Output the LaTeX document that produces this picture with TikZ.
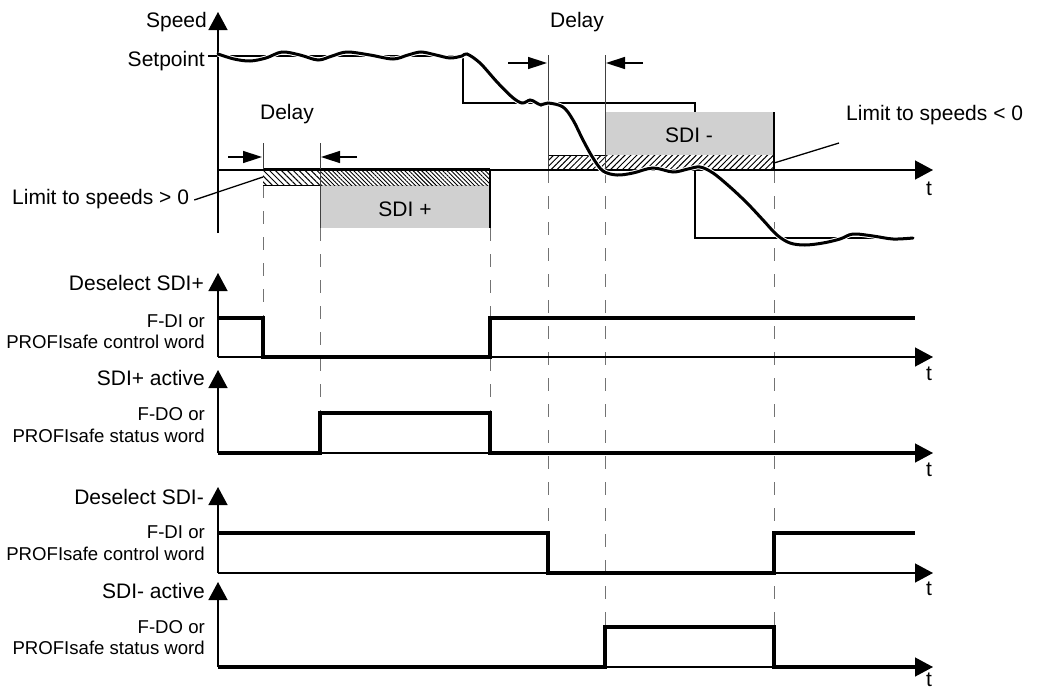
\documentclass[tikz,border=0pt]{standalone}
\usepackage{fontspec}
\setmainfont{Liberation Sans}
\usetikzlibrary{arrows.meta,patterns.meta}
\definecolor{boxgray}{RGB}{208,208,208}
\definecolor{guide}{RGB}{115,115,115}

\begin{document}
\begin{tikzpicture}[x=1pt,y=-1pt,
  big/.style={font=\fontsize{21}{24}\selectfont, inner sep=0pt},
  small/.style={font=\fontsize{18.6}{22}\selectfont, inner sep=0pt},
  axis/.style={line width=1.3pt, -{Triangle[length=18pt,width=19pt]}},
  sig/.style={line width=3.2pt, line join=miter},
  guideline/.style={guide, line width=1pt, dash pattern=on 13pt off 13pt},
  marker/.style={black!75, line width=1pt},
  refline/.style={line width=1.2pt},
  delayarrow/.style={line width=1.5pt, -{Triangle[length=19pt,width=12pt]}},
  leader/.style={line width=1.3pt},
  hatchsparse/.style={pattern={Lines[angle=-45,distance=4.2pt,line width=1pt]}},
  hatchdense/.style={pattern={Lines[angle=-45,distance=3pt,line width=0.9pt]}},
  hatchneg/.style={pattern={Lines[angle=45,distance=4.2pt,line width=1pt]}},
]
\useasboundingbox (0,0) rectangle (1040,691);

% dashed time guides
\draw[guideline] (263,185) -- (263,318);
\draw[guideline] (320,228) -- (320,413);
\draw[guideline] (490,228) -- (490,413);
\draw[guideline] (548,170) -- (548,533);
\draw[guideline] (605,170) -- (605,627);
\draw[guideline] (774,170) -- (774,627);

% speed setpoint profile
\draw[refline] (208,56) -- (463,56) -- (463,103) -- (695,103) -- (695,238) -- (913,238);

% monitoring windows
\fill[boxgray] (320,185) rectangle (490,228);
\fill[boxgray] (605,112) rectangle (774,155);
\fill[white] (263,170) rectangle (490,185);
\fill[white] (548,155) rectangle (774,170);
\fill[hatchsparse] (263,170) rectangle (320,185);
\fill[hatchdense] (320,170) rectangle (490,185);
\fill[hatchneg] (548,155) rectangle (774,170);
\draw[line width=2.5pt] (263,169) -- (490,169);
\draw[line width=1pt] (263,185) -- (320,185);
\draw[line width=1.5pt] (490,169) -- (490,228);
\draw[line width=2.5pt] (548,170) -- (774,170);
\draw[line width=1pt] (548,155) -- (605,155);
\draw[line width=1.5pt] (774,112) -- (774,170);

% delay markers
\draw[marker] (263,143) -- (263,170);
\draw[marker] (320,143) -- (320,228);
\draw[marker] (548,55) -- (548,170);
\draw[marker] (605,55) -- (605,170);

% speed diagram axes
\draw[axis] (218,233) -- (218,12);
\draw[line width=1.3pt] (218,170) -- (263,170);
\draw[axis] (490,170) -- (933,170);
\draw[line width=1.3pt] (263,170) -- (490,170);

% actual speed
\draw[line width=3pt, line cap=round, preaction={draw=white, line width=5pt}]
  plot[smooth, tension=0.55] coordinates {
  (218,54) (234,59) (250,61) (266,58) (282,52) (300,55) (318,60) (332,56)
  (347,52) (370,55) (393,59) (408,55) (421,52) (436,55) (450,58) (462,56)
  (467,54) (480,63) (497,82) (512,97) (522,103) (530,100) (535,102)
  (541,105) (548,103) (563,107) (573,120) (583,140) (593,158) (603,171)
  (617,175) (633,173) (653,168) (673,172) (688,169) (700,167) (713,173)
  (730,187) (747,203) (763,220) (777,235) (790,243) (805,245) (823,243)
  (840,239) (853,234) (873,236) (893,239) (913,238)};

% delay arrows
\coordinate (d1a) at (228,157); \coordinate (d1b) at (262,157);
\coordinate (d1c) at (357,157); \coordinate (d1d) at (321,157);
\coordinate (d2a) at (508,63);  \coordinate (d2b) at (547,63);
\coordinate (d2c) at (643,63);  \coordinate (d2d) at (606,63);
\draw[delayarrow] (d1a) -- (d1b);
\draw[delayarrow] (d1c) -- (d1d);
\draw[delayarrow] (d2a) -- (d2b);
\draw[delayarrow] (d2c) -- (d2d);

% speed diagram texts
\node[big, anchor=base east] (speedlbl) at (207,27) {Speed};
\node[big, anchor=base east] (setlbl) at (205,66) {Setpoint};
\node[big, anchor=base] (delay1) at (287,119) {Delay};
\node[big, anchor=base] (delay2) at (577,27) {Delay};
\node[big, anchor=base west] (limpos) at (12,204) {Limit to speeds > 0};
\node[big, anchor=base west] (limneg) at (846,120) {Limit to speeds < 0};
\node[big, anchor=base] (sdip) at (405,216) {SDI +};
\node[big, anchor=base] (sdin) at (689,142) {SDI -};
\node[big, anchor=base] (t0) at (929,195) {t};

\coordinate (limposend) at (263,177);
\coordinate (limnegend) at (774,163);
\draw[leader] ([xshift=5pt,yshift=4pt]limpos.base east) -- (limposend);
\draw[leader] ([xshift=-7pt,yshift=-23pt]limneg.base west) -- (limnegend);

% Deselect SDI+
\draw[axis] (218,357) -- (218,273);
\draw[axis] (218,357) -- (933,357);
\draw[sig] (218,318) -- (263,318) -- (263,357) -- (490,357) -- (490,318) -- (915,318);
\node[big, anchor=base east] (l1) at (204,290) {Deselect SDI+};
\node[small, anchor=base east] (l1a) at (205,327) {F-DI or};
\node[small, anchor=base east] (l1b) at (205,348) {PROFIsafe control word};
\node[big, anchor=base] (t1) at (929,380) {t};

% SDI+ active
\draw[axis] (218,453) -- (218,370);
\draw[axis] (218,453) -- (933,453);
\draw[sig] (218,453) -- (320,453) -- (320,413) -- (490,413) -- (490,453) -- (915,453);
\node[big, anchor=base east] (l2) at (205,385) {SDI+ active};
\node[small, anchor=base east] (l2a) at (205,420) {F-DO or};
\node[small, anchor=base east] (l2b) at (205,442) {PROFIsafe status word};
\node[big, anchor=base] (t2) at (929,476) {t};

% Deselect SDI-
\draw[axis] (218,573) -- (218,487);
\draw[axis] (218,573) -- (933,573);
\draw[sig] (218,533) -- (548,533) -- (548,573) -- (774,573) -- (774,533) -- (915,533);
\node[big, anchor=base east] (l3) at (204,504) {Deselect SDI-};
\node[small, anchor=base east] (l3a) at (205,538) {F-DI or};
\node[small, anchor=base east] (l3b) at (205,560) {PROFIsafe control word};
\node[big, anchor=base] (t3) at (929,595) {t};

% SDI- active
\draw[axis] (218,667) -- (218,582);
\draw[axis] (218,667) -- (933,667);
\draw[sig] (218,667) -- (605,667) -- (605,627) -- (774,627) -- (774,667) -- (915,667);
\node[big, anchor=base east] (l4) at (205,598) {SDI- active};
\node[small, anchor=base east] (l4a) at (205,633) {F-DO or};
\node[small, anchor=base east] (l4b) at (205,654) {PROFIsafe status word};
\node[big, anchor=base] (t4) at (929,686) {t};
\end{tikzpicture}
\end{document}
